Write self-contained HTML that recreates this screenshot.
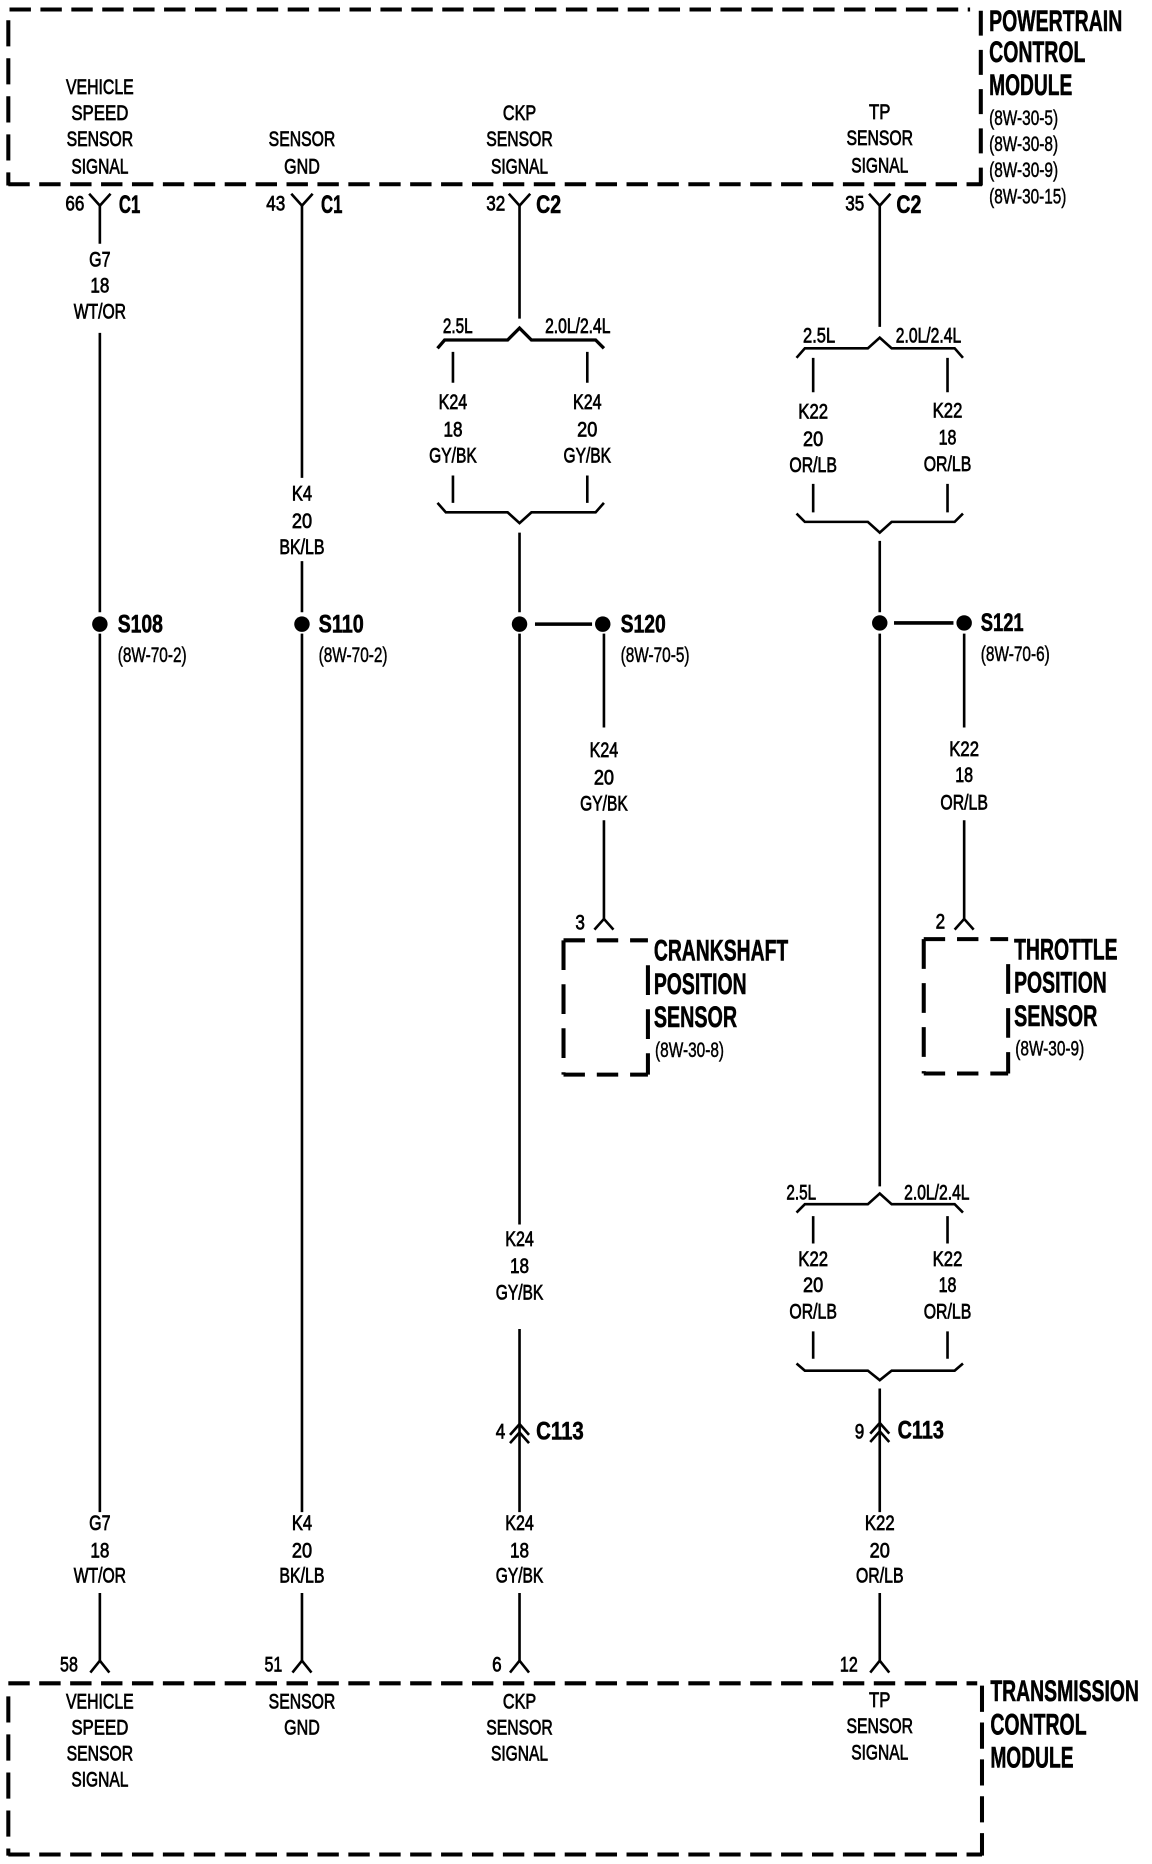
<!DOCTYPE html>
<html><head><meta charset="utf-8"><title>Wiring diagram</title>
<style>
html,body{margin:0;padding:0;background:#fff;width:1152px;height:1864px;overflow:hidden}
svg{display:block}
text{font-family:"Liberation Sans",sans-serif;fill:#000}
.s{font-size:17.5px;text-anchor:middle;stroke:#000;stroke-width:.6}
.l{font-size:17.5px;stroke:#000;stroke-width:.4}
.b{font-size:21px;font-weight:bold;stroke:#000;stroke-width:.5}
.t{font-size:25px;font-weight:bold;stroke:#000;stroke-width:.5}
.w{stroke:#000;stroke-width:2.2;fill:none}
.k{stroke:#000;stroke-width:2.2;fill:none;stroke-linejoin:miter}
.h{stroke:#000;stroke-width:3.4;fill:none;stroke-dasharray:18 8}
.v{stroke:#000;stroke-width:3.4;fill:none;stroke-dasharray:22 10}
</style></head><body>
<svg xmlns="http://www.w3.org/2000/svg" width="1152" height="1864" viewBox="0 0 969 1568" preserveAspectRatio="none">
<rect width="969" height="1568" fill="#fff"/>
<!-- module boxes -->
<path class="h" d="M8 8H816"/><path class="h" d="M7 155H826"/>
<path class="v" d="M7 17V156"/><path class="v" style="stroke-dasharray:21 12" d="M825 9V156"/>
<path class="h" d="M7 1416H822"/><path class="h" d="M7 1560H826"/>
<path class="v" d="M7 1427V1561"/><path class="v" style="stroke-dasharray:22 9" d="M826 1418V1561"/>
<!-- sensor boxes -->
<path class="h" style="stroke-dasharray:18 10" d="M474 791H545"/><path class="h" style="stroke-dasharray:18 10" d="M474 904H545"/>
<path class="v" style="stroke-dasharray:25 12" d="M474 791V904"/><path class="v" style="stroke-dasharray:25 12" d="M545 812V904"/>
<path class="h" style="stroke-dasharray:18 10" d="M777 790H848"/><path class="h" style="stroke-dasharray:18 10" d="M777 903H848"/>
<path class="v" style="stroke-dasharray:25 12" d="M777 790V903"/><path class="v" style="stroke-dasharray:25 12" d="M848 811V903"/>
<!-- wires -->
<path class="w" d="M84 173V205M84 280V515M84 533V1272M84 1340V1397"/>
<path class="w" d="M254 173V402M254 472V515M254 533V1272M254 1340V1397"/>
<path class="w" d="M437 173V268M437 448V515M437 533V1030M437 1118V1272M437 1340V1397"/>
<path class="w" d="M740 173V275M740 455V515M740 533V998M740 1168V1272M740 1340V1397"/>
<path class="w" d="M508 533V612M508 690V773M811 533V612M811 690V773"/>
<path class="w" style="stroke-width:3" d="M450 525H498M752 524H802"/>
<path class="w" d="M381 296V322M381 400V423M494 296V322M494 400V423"/>
<path class="w" d="M684 301V330M684 407V431M797 301V330M797 407V431"/>
<path class="w" d="M684 1023V1046M684 1120V1143M797 1023V1046M797 1120V1143"/>
<!-- braces -->
<path class="k" style="stroke-width:2.8" d="M368 293L374 286H427L437 276L447 286H501L508 293"/>
<path class="k" d="M368 423L375 431H427L437 440L447 431H501L508 423"/>
<path class="k" d="M670 301L677 293H730L740 284L750 293H803L810 301"/>
<path class="k" d="M670 432L677 439H730L740 448L750 439H803L810 432"/>
<path class="k" d="M670 1020L677 1013H730L740 1004L750 1013H803L810 1020"/>
<path class="k" d="M670 1147L677 1153H730L740 1161L750 1153H803L810 1147"/>
<!-- connectors -->
<path class="k" d="M75 163L84 173L93 163M245 163L254 173L263 163M428 163L437 173L446 163M731 163L740 173L749 163"/>
<path class="k" d="M76 1407L84 1397L92 1407M246 1407L254 1397L262 1407M429 1407L437 1397L445 1407M732 1407L740 1397L748 1407"/>
<path class="k" d="M500 782L508 773L516 782M803 782L811 773L819 782"/>
<path class="k" d="M429 1207L437 1198L445 1207M429 1214L437 1205L445 1214M732 1206L740 1197L748 1206M732 1213L740 1204L748 1213"/>
<!-- splices -->
<circle cx="84" cy="525" r="6.5"/><circle cx="254" cy="525" r="6.5"/><circle cx="437" cy="525" r="6.5"/><circle cx="507" cy="525" r="6.5"/><circle cx="740" cy="524" r="6.5"/><circle cx="811" cy="524" r="6.5"/>
<!-- PCM labels -->
<text class="s" x="84" y="79" textLength="57" lengthAdjust="spacingAndGlyphs">VEHICLE</text>
<text class="s" x="84" y="101" textLength="48" lengthAdjust="spacingAndGlyphs">SPEED</text>
<text class="s" x="84" y="123" textLength="56" lengthAdjust="spacingAndGlyphs">SENSOR</text>
<text class="s" x="84" y="146" textLength="48" lengthAdjust="spacingAndGlyphs">SIGNAL</text>
<text class="s" x="254" y="123" textLength="56" lengthAdjust="spacingAndGlyphs">SENSOR</text>
<text class="s" x="254" y="146" textLength="30" lengthAdjust="spacingAndGlyphs">GND</text>
<text class="s" x="437" y="101" textLength="28" lengthAdjust="spacingAndGlyphs">CKP</text>
<text class="s" x="437" y="123" textLength="56" lengthAdjust="spacingAndGlyphs">SENSOR</text>
<text class="s" x="437" y="146" textLength="48" lengthAdjust="spacingAndGlyphs">SIGNAL</text>
<text class="s" x="740" y="100" textLength="18" lengthAdjust="spacingAndGlyphs">TP</text>
<text class="s" x="740" y="122" textLength="56" lengthAdjust="spacingAndGlyphs">SENSOR</text>
<text class="s" x="740" y="145" textLength="48" lengthAdjust="spacingAndGlyphs">SIGNAL</text>
<!-- pins top -->
<text class="s" x="63" y="177" textLength="16" lengthAdjust="spacingAndGlyphs">66</text>
<text class="s" x="232" y="177" textLength="16" lengthAdjust="spacingAndGlyphs">43</text>
<text class="s" x="417" y="177" textLength="16" lengthAdjust="spacingAndGlyphs">32</text>
<text class="s" x="719" y="177" textLength="16" lengthAdjust="spacingAndGlyphs">35</text>
<text class="b" x="100" y="179" textLength="18" lengthAdjust="spacingAndGlyphs">C1</text>
<text class="b" x="270" y="179" textLength="18" lengthAdjust="spacingAndGlyphs">C1</text>
<text class="b" x="451" y="179" textLength="21" lengthAdjust="spacingAndGlyphs">C2</text>
<text class="b" x="754" y="179" textLength="21" lengthAdjust="spacingAndGlyphs">C2</text>
<!-- wire labels col 1 -->
<text class="s" x="84" y="224" textLength="18" lengthAdjust="spacingAndGlyphs">G7</text>
<text class="s" x="84" y="246" textLength="16" lengthAdjust="spacingAndGlyphs">18</text>
<text class="s" x="84" y="268" textLength="44" lengthAdjust="spacingAndGlyphs">WT/OR</text>
<text class="s" x="254" y="421" textLength="17" lengthAdjust="spacingAndGlyphs">K4</text>
<text class="s" x="254" y="444" textLength="17" lengthAdjust="spacingAndGlyphs">20</text>
<text class="s" x="254" y="466" textLength="38" lengthAdjust="spacingAndGlyphs">BK/LB</text>
<!-- brace labels -->
<text class="s" x="385" y="280" textLength="25" lengthAdjust="spacingAndGlyphs">2.5L</text>
<text class="s" x="486" y="280" textLength="55" lengthAdjust="spacingAndGlyphs">2.0L/2.4L</text>
<text class="s" x="381" y="344" textLength="24" lengthAdjust="spacingAndGlyphs">K24</text>
<text class="s" x="381" y="367" textLength="16" lengthAdjust="spacingAndGlyphs">18</text>
<text class="s" x="381" y="389" textLength="40" lengthAdjust="spacingAndGlyphs">GY/BK</text>
<text class="s" x="494" y="344" textLength="24" lengthAdjust="spacingAndGlyphs">K24</text>
<text class="s" x="494" y="367" textLength="17" lengthAdjust="spacingAndGlyphs">20</text>
<text class="s" x="494" y="389" textLength="40" lengthAdjust="spacingAndGlyphs">GY/BK</text>
<text class="s" x="689" y="288" textLength="27" lengthAdjust="spacingAndGlyphs">2.5L</text>
<text class="s" x="781" y="288" textLength="55" lengthAdjust="spacingAndGlyphs">2.0L/2.4L</text>
<text class="s" x="684" y="352" textLength="25" lengthAdjust="spacingAndGlyphs">K22</text>
<text class="s" x="684" y="375" textLength="17" lengthAdjust="spacingAndGlyphs">20</text>
<text class="s" x="684" y="397" textLength="40" lengthAdjust="spacingAndGlyphs">OR/LB</text>
<text class="s" x="797" y="351" textLength="25" lengthAdjust="spacingAndGlyphs">K22</text>
<text class="s" x="797" y="374" textLength="15" lengthAdjust="spacingAndGlyphs">18</text>
<text class="s" x="797" y="396" textLength="40" lengthAdjust="spacingAndGlyphs">OR/LB</text>
<!-- splice labels -->
<text class="b" x="99" y="532" textLength="38" lengthAdjust="spacingAndGlyphs">S108</text>
<text class="l" x="99" y="557" textLength="58" lengthAdjust="spacingAndGlyphs">(8W-70-2)</text>
<text class="b" x="268" y="532" textLength="38" lengthAdjust="spacingAndGlyphs">S110</text>
<text class="l" x="268" y="557" textLength="58" lengthAdjust="spacingAndGlyphs">(8W-70-2)</text>
<text class="b" x="522" y="532" textLength="38" lengthAdjust="spacingAndGlyphs">S120</text>
<text class="l" x="522" y="557" textLength="58" lengthAdjust="spacingAndGlyphs">(8W-70-5)</text>
<text class="b" x="825" y="531" textLength="36" lengthAdjust="spacingAndGlyphs">S121</text>
<text class="l" x="825" y="556" textLength="58" lengthAdjust="spacingAndGlyphs">(8W-70-6)</text>
<!-- sensor branch labels -->
<text class="s" x="508" y="637" textLength="24" lengthAdjust="spacingAndGlyphs">K24</text>
<text class="s" x="508" y="660" textLength="17" lengthAdjust="spacingAndGlyphs">20</text>
<text class="s" x="508" y="682" textLength="40" lengthAdjust="spacingAndGlyphs">GY/BK</text>
<text class="s" x="811" y="636" textLength="25" lengthAdjust="spacingAndGlyphs">K22</text>
<text class="s" x="811" y="658" textLength="15" lengthAdjust="spacingAndGlyphs">18</text>
<text class="s" x="811" y="681" textLength="40" lengthAdjust="spacingAndGlyphs">OR/LB</text>
<text class="s" x="488" y="782" textLength="8" lengthAdjust="spacingAndGlyphs">3</text>
<text class="s" x="791" y="781" textLength="8" lengthAdjust="spacingAndGlyphs">2</text>
<!-- titles -->
<text class="t" x="550" y="808" textLength="113" lengthAdjust="spacingAndGlyphs">CRANKSHAFT</text>
<text class="t" x="550" y="836" textLength="78" lengthAdjust="spacingAndGlyphs">POSITION</text>
<text class="t" x="550" y="864" textLength="70" lengthAdjust="spacingAndGlyphs">SENSOR</text>
<text class="l" x="551" y="889" textLength="58" lengthAdjust="spacingAndGlyphs">(8W-30-8)</text>
<text class="t" x="853" y="807" textLength="87" lengthAdjust="spacingAndGlyphs">THROTTLE</text>
<text class="t" x="853" y="835" textLength="78" lengthAdjust="spacingAndGlyphs">POSITION</text>
<text class="t" x="853" y="863" textLength="70" lengthAdjust="spacingAndGlyphs">SENSOR</text>
<text class="l" x="854" y="888" textLength="58" lengthAdjust="spacingAndGlyphs">(8W-30-9)</text>
<text class="t" x="832" y="26" textLength="112" lengthAdjust="spacingAndGlyphs">POWERTRAIN</text>
<text class="t" x="832" y="52" textLength="81" lengthAdjust="spacingAndGlyphs">CONTROL</text>
<text class="t" x="832" y="80" textLength="70" lengthAdjust="spacingAndGlyphs">MODULE</text>
<text class="l" x="832" y="105" textLength="58" lengthAdjust="spacingAndGlyphs">(8W-30-5)</text>
<text class="l" x="832" y="127" textLength="58" lengthAdjust="spacingAndGlyphs">(8W-30-8)</text>
<text class="l" x="832" y="149" textLength="58" lengthAdjust="spacingAndGlyphs">(8W-30-9)</text>
<text class="l" x="832" y="171" textLength="65" lengthAdjust="spacingAndGlyphs">(8W-30-15)</text>
<text class="t" x="833" y="1431" textLength="125" lengthAdjust="spacingAndGlyphs">TRANSMISSION</text>
<text class="t" x="833" y="1459" textLength="81" lengthAdjust="spacingAndGlyphs">CONTROL</text>
<text class="t" x="833" y="1487" textLength="70" lengthAdjust="spacingAndGlyphs">MODULE</text>
<!-- lower section -->
<text class="s" x="437" y="1048" textLength="24" lengthAdjust="spacingAndGlyphs">K24</text>
<text class="s" x="437" y="1071" textLength="16" lengthAdjust="spacingAndGlyphs">18</text>
<text class="s" x="437" y="1093" textLength="40" lengthAdjust="spacingAndGlyphs">GY/BK</text>
<text class="s" x="674" y="1009" textLength="25" lengthAdjust="spacingAndGlyphs">2.5L</text>
<text class="s" x="788" y="1009" textLength="55" lengthAdjust="spacingAndGlyphs">2.0L/2.4L</text>
<text class="s" x="684" y="1065" textLength="25" lengthAdjust="spacingAndGlyphs">K22</text>
<text class="s" x="684" y="1087" textLength="17" lengthAdjust="spacingAndGlyphs">20</text>
<text class="s" x="684" y="1109" textLength="40" lengthAdjust="spacingAndGlyphs">OR/LB</text>
<text class="s" x="797" y="1065" textLength="25" lengthAdjust="spacingAndGlyphs">K22</text>
<text class="s" x="797" y="1087" textLength="15" lengthAdjust="spacingAndGlyphs">18</text>
<text class="s" x="797" y="1109" textLength="40" lengthAdjust="spacingAndGlyphs">OR/LB</text>
<text class="s" x="421" y="1210" textLength="8" lengthAdjust="spacingAndGlyphs">4</text>
<text class="s" x="723" y="1210" textLength="8" lengthAdjust="spacingAndGlyphs">9</text>
<text class="b" x="451" y="1211" textLength="40" lengthAdjust="spacingAndGlyphs">C113</text>
<text class="b" x="755" y="1210" textLength="39" lengthAdjust="spacingAndGlyphs">C113</text>
<text class="s" x="84" y="1287" textLength="18" lengthAdjust="spacingAndGlyphs">G7</text>
<text class="s" x="84" y="1310" textLength="16" lengthAdjust="spacingAndGlyphs">18</text>
<text class="s" x="84" y="1331" textLength="44" lengthAdjust="spacingAndGlyphs">WT/OR</text>
<text class="s" x="254" y="1287" textLength="17" lengthAdjust="spacingAndGlyphs">K4</text>
<text class="s" x="254" y="1310" textLength="17" lengthAdjust="spacingAndGlyphs">20</text>
<text class="s" x="254" y="1331" textLength="38" lengthAdjust="spacingAndGlyphs">BK/LB</text>
<text class="s" x="437" y="1287" textLength="24" lengthAdjust="spacingAndGlyphs">K24</text>
<text class="s" x="437" y="1310" textLength="16" lengthAdjust="spacingAndGlyphs">18</text>
<text class="s" x="437" y="1331" textLength="40" lengthAdjust="spacingAndGlyphs">GY/BK</text>
<text class="s" x="740" y="1287" textLength="25" lengthAdjust="spacingAndGlyphs">K22</text>
<text class="s" x="740" y="1310" textLength="17" lengthAdjust="spacingAndGlyphs">20</text>
<text class="s" x="740" y="1331" textLength="40" lengthAdjust="spacingAndGlyphs">OR/LB</text>
<text class="s" x="58" y="1406" textLength="15" lengthAdjust="spacingAndGlyphs">58</text>
<text class="s" x="230" y="1406" textLength="15" lengthAdjust="spacingAndGlyphs">51</text>
<text class="s" x="418" y="1406" textLength="8" lengthAdjust="spacingAndGlyphs">6</text>
<text class="s" x="714" y="1406" textLength="15" lengthAdjust="spacingAndGlyphs">12</text>
<!-- TCM labels -->
<text class="s" x="84" y="1437" textLength="57" lengthAdjust="spacingAndGlyphs">VEHICLE</text>
<text class="s" x="84" y="1459" textLength="48" lengthAdjust="spacingAndGlyphs">SPEED</text>
<text class="s" x="84" y="1481" textLength="56" lengthAdjust="spacingAndGlyphs">SENSOR</text>
<text class="s" x="84" y="1503" textLength="48" lengthAdjust="spacingAndGlyphs">SIGNAL</text>
<text class="s" x="254" y="1437" textLength="56" lengthAdjust="spacingAndGlyphs">SENSOR</text>
<text class="s" x="254" y="1459" textLength="30" lengthAdjust="spacingAndGlyphs">GND</text>
<text class="s" x="437" y="1437" textLength="28" lengthAdjust="spacingAndGlyphs">CKP</text>
<text class="s" x="437" y="1459" textLength="56" lengthAdjust="spacingAndGlyphs">SENSOR</text>
<text class="s" x="437" y="1481" textLength="48" lengthAdjust="spacingAndGlyphs">SIGNAL</text>
<text class="s" x="740" y="1436" textLength="18" lengthAdjust="spacingAndGlyphs">TP</text>
<text class="s" x="740" y="1458" textLength="56" lengthAdjust="spacingAndGlyphs">SENSOR</text>
<text class="s" x="740" y="1480" textLength="48" lengthAdjust="spacingAndGlyphs">SIGNAL</text>
</svg>
</body></html>
